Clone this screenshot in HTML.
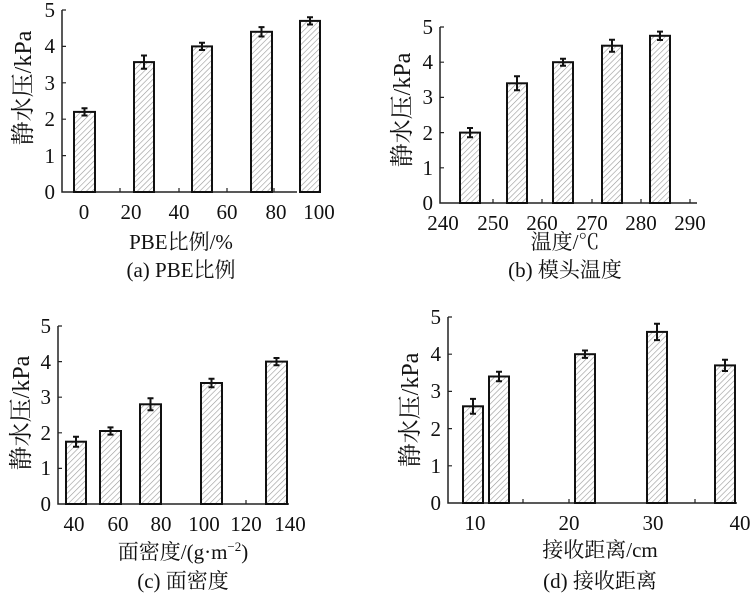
<!DOCTYPE html>
<html><head><meta charset="utf-8"><style>
body{margin:0;background:#fff}
svg text{font-family:"Liberation Serif","Noto Serif CJK SC",serif;fill:#111}
.ax{stroke:#222;stroke-width:1.5;fill:none}
.tk{stroke:#222;stroke-width:1.2;fill:none}
.b{fill:url(#h);stroke:#111;stroke-width:2}
.e{stroke:#111;stroke-width:2;fill:none}
</style></head><body>
<svg width="750" height="598" xmlns="http://www.w3.org/2000/svg">
<defs><pattern id="h" width="4" height="4" patternUnits="userSpaceOnUse" patternTransform="rotate(45)"><rect width="4" height="4" fill="#fff"/><line x1="0" y1="0" x2="0" y2="4" stroke="#999" stroke-width="1.2"/></pattern></defs>

<path class="ax" d="M62 10V192H297"/>
<path class="tk" d="M62 155.6h4M62 119.2h4M62 82.8h4M62 46.4h4M62 10h4M120 192v-4M179 192v-4M227 192v-4M274 192v-4"/>
<rect class="b" x="74" y="111.9" width="21" height="80.1"/>
<rect class="b" x="134" y="62.1" width="20" height="129.9"/>
<rect class="b" x="192" y="46.4" width="20" height="145.6"/>
<rect class="b" x="251" y="31.8" width="21" height="160.2"/>
<rect class="b" x="300" y="20.9" width="20" height="171.1"/>
<path class="e" d="M84.5 108.3V115.5M81.5 108.3h6M81.5 115.5h6M144 55.5V68.7M141 55.5h6M141 68.7h6M202 42.8V50M199 42.8h6M199 50h6M261.5 27.1V36.5M258.5 27.1h6M258.5 36.5h6M310 17.3V24.5M307 17.3h6M307 24.5h6"/>

<path class="ax" d="M440 27V203H697"/>
<path class="tk" d="M440 167.8h4M440 132.6h4M440 97.4h4M440 62.2h4M440 27h4M493 203v-4M542 203v-4M592 203v-4M641 203v-4M690 203v-4"/>
<rect class="b" x="460" y="132.6" width="20" height="70.4"/>
<rect class="b" x="507" y="83.3" width="20" height="119.7"/>
<rect class="b" x="553" y="62.2" width="20" height="140.8"/>
<rect class="b" x="602" y="45.7" width="20" height="157.3"/>
<rect class="b" x="650" y="35.8" width="20" height="167.2"/>
<path class="e" d="M470 128V137.2M467 128h6M467 137.2h6M517 76.3V90.3M514 76.3h6M514 90.3h6M563 58.7V65.7M560 58.7h6M560 65.7h6M612 39.7V51.7M609 39.7h6M609 51.7h6M660 31.6V40M657 31.6h6M657 40h6"/>

<path class="ax" d="M58 326V504H289"/>
<path class="tk" d="M58 468.4h4M58 432.8h4M58 397.2h4M58 361.6h4M58 326h4M118 504v-4M161 504v-4M204 504v-4M246 504v-4"/>
<rect class="b" x="66" y="441.7" width="20" height="62.3"/>
<rect class="b" x="100" y="431" width="21" height="73"/>
<rect class="b" x="140" y="404.3" width="21" height="99.7"/>
<rect class="b" x="201" y="383" width="21" height="121"/>
<rect class="b" x="266" y="361.6" width="21" height="142.4"/>
<path class="e" d="M76 436.7V446.7M73 436.7h6M73 446.7h6M110.5 427.4V434.6M107.5 427.4h6M107.5 434.6h6M150.5 398.3V410.3M147.5 398.3h6M147.5 410.3h6M211.5 378.7V387.3M208.5 378.7h6M208.5 387.3h6M276.5 358V365.2M273.5 358h6M273.5 365.2h6"/>

<path class="ax" d="M448 317V503H737"/>
<path class="tk" d="M448 465.8h4M448 428.6h4M448 391.4h4M448 354.2h4M448 317h4M523 503v-4M569 503v-4M653 503v-4M695 503v-4"/>
<rect class="b" x="463" y="406.3" width="20" height="96.7"/>
<rect class="b" x="489" y="376.5" width="20" height="126.5"/>
<rect class="b" x="575" y="354.2" width="20" height="148.8"/>
<rect class="b" x="647" y="331.9" width="20" height="171.1"/>
<rect class="b" x="715" y="365.4" width="20" height="137.6"/>
<path class="e" d="M473 398.9V413.7M470 398.9h6M470 413.7h6M499 371.7V381.3M496 371.7h6M496 381.3h6M585 350.5V357.9M582 350.5h6M582 357.9h6M657 323.7V340.1M654 323.7h6M654 340.1h6M725 359.8V371M722 359.8h6M722 371h6"/>

<g font-size="21" text-anchor="end">
<text x="55" y="199">0</text><text x="55" y="163">1</text><text x="55" y="126">2</text><text x="55" y="90">3</text><text x="55" y="53">4</text><text x="55" y="17">5</text>
<text x="433" y="210">0</text><text x="433" y="175">1</text><text x="433" y="140">2</text><text x="433" y="104">3</text><text x="433" y="69">4</text><text x="433" y="34">5</text>
<text x="51" y="511">0</text><text x="51" y="475">1</text><text x="51" y="440">2</text><text x="51" y="404">3</text><text x="51" y="369">4</text><text x="51" y="333">5</text>
<text x="441" y="510">0</text><text x="441" y="473">1</text><text x="441" y="436">2</text><text x="441" y="398">3</text><text x="441" y="361">4</text><text x="441" y="324">5</text>
</g>
<g font-size="21" text-anchor="middle">
<text x="84" y="219">0</text><text x="131" y="219">20</text><text x="179" y="219">40</text><text x="227" y="219">60</text><text x="276" y="219">80</text><text x="319" y="219">100</text>
<text x="443" y="230">240</text><text x="493" y="230">250</text><text x="542" y="230">260</text><text x="592" y="230">270</text><text x="641" y="230">280</text><text x="690" y="230">290</text>
<text x="74" y="531">40</text><text x="118" y="531">60</text><text x="161" y="531">80</text><text x="204" y="531">100</text><text x="246" y="531">120</text><text x="290" y="531">140</text>
<text x="475" y="530">10</text><text x="569" y="530">20</text><text x="653" y="530">30</text><text x="740" y="530">40</text>
<text x="181" y="249">PBE比例/%</text><text x="181" y="277">(a) PBE比例</text>
<text x="565" y="249">温度/℃</text><text x="565" y="277">(b) 模头温度</text>
<text x="183" y="559">面密度/(g·m<tspan font-size="13" dy="-8">−2</tspan><tspan dy="8">)</tspan></text><text x="183" y="588">(c) 面密度</text>
<text x="600" y="557">接收距离/cm</text><text x="600" y="588">(d) 接收距离</text>
</g>
<g font-size="24" text-anchor="middle">
<text transform="translate(31,88) rotate(-90)">静水压/kPa</text>
<text transform="translate(410,110) rotate(-90)">静水压/kPa</text>
<text transform="translate(29,413) rotate(-90)">静水压/kPa</text>
<text transform="translate(418,410) rotate(-90)">静水压/kPa</text>
</g>
</svg>
</body></html>
